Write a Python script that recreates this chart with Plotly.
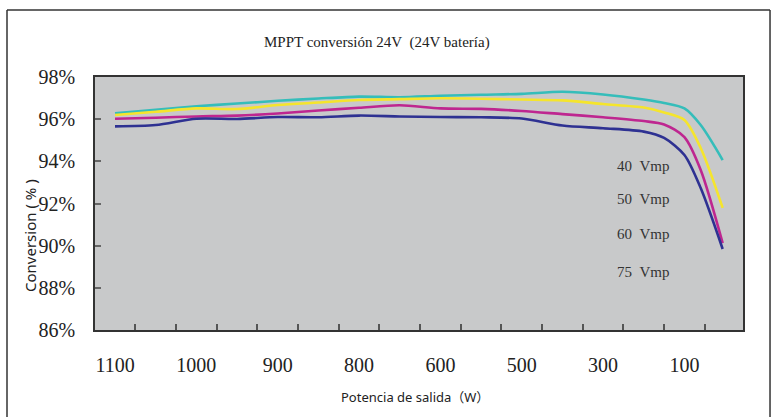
import plotly.graph_objects as go

# x positions on the category axis (0 = 1100 W ... 7 = 100 W, last point past 100 W)
x_pos = [0, 0.5, 1, 1.5, 2, 2.5, 3, 3.5, 4, 4.5, 5, 5.5, 6, 6.5, 6.75, 7, 7.2, 7.47]
power_labels = ['1100', '1000', '900', '800', '600', '500', '300', '100']

v40 = [96.28, 96.44, 96.61, 96.74, 96.87, 96.98, 97.07, 97.04, 97.11, 97.16,
       97.20, 97.30, 97.17, 96.93, 96.77, 96.51, 95.72, 94.06]
v50 = [96.20, 96.35, 96.51, 96.48, 96.67, 96.79, 96.91, 96.95, 96.99, 96.97,
       96.93, 96.89, 96.72, 96.55, 96.32, 95.96, 94.63, 91.79]
v60 = [96.02, 96.07, 96.13, 96.17, 96.27, 96.41, 96.54, 96.66, 96.51, 96.49,
       96.39, 96.24, 96.09, 95.91, 95.75, 95.15, 93.59, 90.12]
v75 = [95.66, 95.72, 96.02, 96.01, 96.10, 96.09, 96.17, 96.13, 96.10, 96.09,
       96.03, 95.70, 95.57, 95.41, 95.11, 94.30, 92.73, 89.84]

series = [
    ('40 Vmp', v40, '#35BDBA'),
    ('50 Vmp', v50, '#F5E52C'),
    ('60 Vmp', v60, '#BE2690'),
    ('75 Vmp', v75, '#2E3192'),
]
label_y = [93.78, 92.21, 90.55, 88.75]

serif = 'Liberation Serif'
sans = 'Noto Sans'

fig = go.Figure()

for name, vals, color in series:
    fig.add_trace(go.Scatter(
        x=x_pos, y=vals, mode='lines', name=name,
        line=dict(color=color, width=2.6, shape='spline', smoothing=0.8),
        showlegend=False
    ))

# series labels inside the plot
for (name, vals, color), ly in zip(series, label_y):
    fig.add_annotation(x=6.15, y=ly, xref='x', yref='y', text=name.replace(' ', '&nbsp;&nbsp;'),
                       showarrow=False, xanchor='left', yanchor='middle',
                       font=dict(family=serif, size=15, color='#333333'))

fig.add_annotation(x=0.435, y=1.138, xref='paper', yref='paper',
                   xanchor='center', yanchor='middle',
                   text='MPPT conversión 24V&nbsp;&nbsp;(24V batería)', showarrow=False,
                   font=dict(family=serif, size=15, color='#222222'))
fig.add_annotation(x=-0.1003, y=0.3715, xref='paper', yref='paper',
                   xanchor='center', yanchor='middle',
                   text='Conversion ( % )', textangle=-90, showarrow=False,
                   font=dict(family=sans, size=15, color='#222222'))
fig.add_annotation(x=0.494, y=-0.265, xref='paper', yref='paper',
                   xanchor='center', yanchor='middle',
                   text='Potencia de salida（W）', showarrow=False,
                   font=dict(family=sans + ', Noto Sans CJK SC', size=13, color='#222222'))

# outer frame
frame = dict(color='#333333', width=1.5)
fig.add_shape(type='line', xref='paper', yref='paper', x0=-0.1358, x1=-0.1358, y0=-0.5, y1=1.265, line=frame)
fig.add_shape(type='line', xref='paper', yref='paper', x0=-0.1358, x1=1.0417, y0=1.265, y1=1.265, line=frame)
fig.add_shape(type='line', xref='paper', yref='paper', x0=1.0417, x1=1.0417, y0=-0.5, y1=1.265, line=frame)

fig.update_xaxes(
    range=[-0.246, 7.72], showgrid=False, zeroline=False, automargin=False,
    tickmode='array', tickvals=list(range(len(power_labels))), ticktext=power_labels,
    ticks='', ticklabelstandoff=16,
    minor=dict(tickmode='array', tickvals=[0.25 + 0.5 * i for i in range(15)],
               ticks='inside', ticklen=6, tickwidth=1.5, tickcolor='#555555', showgrid=False),
    showline=True, linecolor='#333333', linewidth=1.5, mirror=True,
    tickfont=dict(family=serif, size=20, color='#222222')
)
fig.update_yaxes(
    range=[86, 98], showgrid=False, zeroline=False, automargin=False,
    tickmode='array', tickvals=[86, 88, 90, 92, 94, 96, 98],
    ticktext=['86%', '88%', '90%', '92%', '94%', '96%', '98%'],
    ticks='inside', ticklen=6, tickwidth=1.5, tickcolor='#666666', ticklabelstandoff=14,
    showline=True, linecolor='#333333', linewidth=1.5, mirror=True,
    tickfont=dict(family=serif, size=20, color='#222222')
)

fig.update_layout(
    width=772, height=417,
    margin=dict(l=95, r=29, t=77, b=87),
    plot_bgcolor='#C8C9CA', paper_bgcolor='white',
    showlegend=False
)

fig.write_html('out.html', config={'displayModeBar': False},
               post_script="document.body.style.margin='0';")
